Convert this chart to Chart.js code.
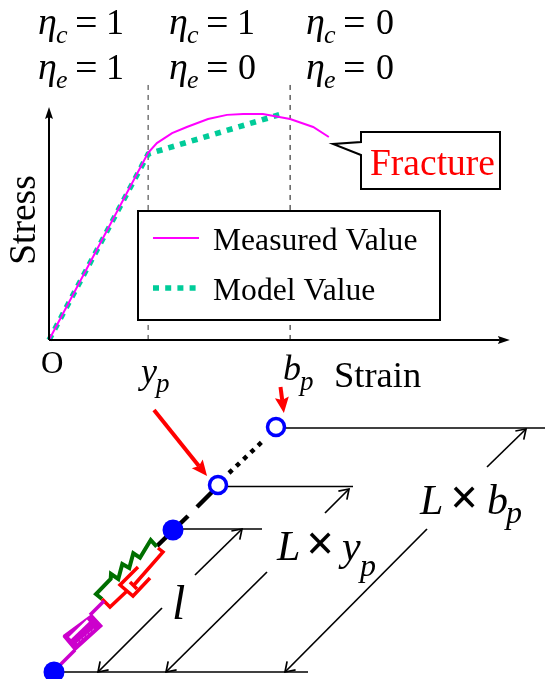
<!DOCTYPE html>
<html>
<head>
<meta charset="utf-8">
<title>Stress strain model</title>
<script src="https://cdn.jsdelivr.net/npm/chart.js@4"></script>
<style>
  html, body { margin: 0; padding: 0; background: #fff; }
  canvas { display: block; }
</style>
</head>
<body>
<canvas id="chart" width="545" height="679"></canvas>
<script>
// Stress-strain curves (strain and stress in % of the drawn axis length)
const seriesNames = ["Measured Value", "Model Value"];
const measuredStrain = [0, 21.5, 23.4, 26.7, 29.9, 34.5, 38.6, 42.1, 46.4, 52.3, 57.3, 60.7];
const measuredStress = [0, 80.3, 84.5, 88.8, 91.4, 94.8, 96.6, 97.0, 97.0, 94.8, 91.4, 87.1];
const modelStrain = [0, 21.5, 51.2];
const modelStress = [0, 79.8, 97.4];
const yieldStrain = 21.5;
const breakStrain = 52.3;
const guideTop = 111;

// Element model drawn below the plot (picture units)
const nodeX = [54, 173];
const nodeY = [672, 530];
const openNodeX = [218, 276];
const openNodeY = [485, 427];
const springX = [102, 96, 110.7, 111, 118.3, 122.3, 129.3, 133.3, 140, 150.7, 156.7];
const springY = [599, 594, 579, 574, 579, 564, 568, 553.3, 557.7, 540, 546.7];
const damperBaseX = [102, 110, 127];
const damperBaseY = [599, 607, 591];
const damperCylinderX = [138, 120, 133, 150];
const damperCylinderY = [567, 585, 596, 578];
const damperRodX = [158, 163, 134];
const damperRodY = [548, 552, 585];
const damperHeadX = [130, 137];
const damperHeadY = [582, 589];
const sliderX = [63.3, 91.7, 101.7, 75, 63.3];
const sliderY = [636, 615, 626, 650, 636];
const sliderSlitX = [70, 88];
const sliderSlitY = [638, 620.7];
const sliderGrainX = [77, 95];
const sliderGrainY = [643, 628];

const TEXT_BLACK = "#000000";
const RED = "#ff0000";
const BLUE = "#0000ff";
const MAGENTA = "#ff00ff";
const TEAL = "#00cc99";
const GREEN = "#006f00";
const PURPLE = "#cc00cc";
const SERIF = '"Liberation Serif"';

// Text: string, x, baseline, size, style, colour
const labels = [
    ["η", 38, 34, 38, "italic"], ["c", 56, 43, 26, "italic"], ["=", 75, 36, 40, ""], ["1", 106, 34, 36, ""],
    ["η", 38, 79, 38, "italic"], ["e", 56, 88, 26, "italic"], ["=", 75, 81, 40, ""], ["1", 106, 79, 36, ""],
    ["η", 169, 34, 38, "italic"], ["c", 187, 43, 26, "italic"], ["=", 206, 36, 40, ""], ["1", 237, 34, 36, ""],
    ["η", 169, 79, 38, "italic"], ["e", 187, 88, 26, "italic"], ["=", 206, 81, 40, ""], ["0", 238, 79, 36, ""],
    ["η", 306, 34, 38, "italic"], ["c", 324, 43, 26, "italic"], ["=", 343, 36, 40, ""], ["0", 376, 34, 36, ""],
    ["η", 306, 79, 38, "italic"], ["e", 324, 88, 26, "italic"], ["=", 343, 81, 40, ""], ["0", 376, 79, 36, ""],
    ["Fracture", 370, 175, 37.5, "", RED],
    [seriesNames[0], 213, 250, 31.6, ""],
    [seriesNames[1], 213, 300, 31.6, ""],
    ["O", 41, 373, 31, ""],
    ["y", 141, 383, 36, "italic"], ["p", 156, 392, 27, "italic"],
    ["b", 283, 380, 36, "italic"], ["p", 300, 390, 27, "italic"],
    ["Strain", 334, 387, 36.5, ""],
    ["l", 172, 619, 48, "italic"],
    ["L", 277, 560, 42, "italic"], ["×", 306, 560, 50, "bold"], ["y", 342, 560, 42, "italic"], ["p", 360, 576, 32, "italic"],
    ["L", 420, 514, 42, "italic"], ["×", 450, 514, 50, "bold"], ["b", 487, 514, 42, "italic"], ["p", 506, 523, 32, "italic"]
];

function toPoints(xs, ys) {
    return xs.map((x, i) => ({ x: x, y: ys[i] }));
}

// Datasets on the strain/stress scales
function plotLine(xs, ys, color, width, extra) {
    return Object.assign({
        data: toPoints(xs, ys), xAxisID: "strain", yAxisID: "stress", showLine: true,
        borderColor: color, borderWidth: width, pointRadius: 0, tension: 0, fill: false
    }, extra);
}

// Datasets on the picture scales
function figLine(xs, ys, color, width, extra) {
    return plotLine(xs, ys, color, width, Object.assign({ xAxisID: "figX", yAxisID: "figY" }, extra));
}

const boxStyle = { fill: "shape", backgroundColor: "#ffffff", borderCapStyle: "square", borderJoinStyle: "miter" };
const solidHead = { arrow: { len: 10, half: 4, color: TEXT_BLACK } };
const redHead = { arrow: { len: 13, half: 7, color: RED } };
const openHead = { arrow: { len: 9, half: 6, open: true, color: TEXT_BLACK } };

// Listed in paint order, later entries on top
const layers = [
    plotLine([yieldStrain, yieldStrain], [0, guideTop], "#333333", 1, { borderDash: [5, 5] }),
    plotLine([breakStrain, breakStrain], [0, guideTop], "#111111", 1, { borderDash: [5, 5] }),
    plotLine(modelStrain, modelStress, TEAL, 5.5, { label: seriesNames[1], borderDash: [6, 6.2] }),
    plotLine(measuredStrain, measuredStress, MAGENTA, 2, { label: seriesNames[0] }),
    plotLine([0, 0], [0, 95.7], TEXT_BLACK, 2, solidHead),
    plotLine([0, 97.8], [0, 0], TEXT_BLACK, 2, solidHead),

    // legend box and callout
    figLine([138, 440, 440, 138, 138], [211, 211, 320, 320, 211], TEXT_BLACK, 2, boxStyle),
    figLine([153, 199], [238, 238], MAGENTA, 2),
    figLine([153, 197], [288, 288], TEAL, 5.5, { borderDash: [6, 6.2] }),
    figLine([361, 500, 500, 361, 361, 333, 361, 361], [132, 132, 189, 189, 155, 144, 142, 132], TEXT_BLACK, 2, boxStyle),

    // dimension lines
    figLine([282, 545], [428, 428], TEXT_BLACK, 1.7),
    figLine([226, 353], [486.5, 486.5], TEXT_BLACK, 1.7),
    figLine([178, 262], [529, 529], TEXT_BLACK, 1.7),
    figLine([54, 308], [672, 672], TEXT_BLACK, 1.7),
    figLine([195, 242], [575, 529], TEXT_BLACK, 1.7, openHead),
    figLine([162, 98], [608, 672], TEXT_BLACK, 1.7, openHead),
    figLine([325, 349], [513, 489], TEXT_BLACK, 1.7, openHead),
    figLine([267, 166], [572, 672], TEXT_BLACK, 1.7, openHead),
    figLine([487, 526], [467, 429], TEXT_BLACK, 1.7, openHead),
    figLine([427, 285], [529, 672], TEXT_BLACK, 1.7, openHead),

    // truss element
    figLine([157, 188], [546, 516], TEXT_BLACK, 4.5),
    figLine([197, 212], [507, 492], TEXT_BLACK, 4.5),
    figLine([229, 265], [473, 439], TEXT_BLACK, 4.5, { borderDash: [4.5, 5.5] }),
    figLine(springX, springY, GREEN, 4),
    figLine(damperBaseX, damperBaseY, RED, 3.5),
    figLine(damperCylinderX, damperCylinderY, RED, 3.5),
    figLine(damperRodX, damperRodY, RED, 3.5),
    figLine(damperHeadX, damperHeadY, RED, 3.5),
    figLine([104, 90], [601, 615], PURPLE, 3.5),
    figLine([75, 54], [650, 671], PURPLE, 3.5),
    figLine(sliderX, sliderY, PURPLE, 2, { fill: "shape", backgroundColor: PURPLE }),
    figLine(sliderSlitX, sliderSlitY, "#ffffff", 3),
    figLine(sliderGrainX, sliderGrainY, "rgba(255,255,255,0.5)", 1, { borderDash: [2, 2] }),

    // nodes
    figLine(nodeX, nodeY, BLUE, 0, { showLine: false, pointRadius: 10.5, pointBackgroundColor: BLUE, pointBorderWidth: 0 }),
    figLine(openNodeX, openNodeY, BLUE, 0, { showLine: false, pointRadius: 8.5, pointBackgroundColor: "#ffffff", pointBorderColor: BLUE, pointBorderWidth: 3.5 }),

    // red markers
    figLine([154, 198.9], [410, 465.9], RED, 4, redHead),
    figLine([280.5, 282.2], [387, 400], RED, 4, redHead)
];
layers.forEach((layer, i) => { layer.order = -i; });

/**
 * Draws arrow heads at the last point of the datasets that ask for one
 */
const arrowHeads = {
    id: "arrowHeads",
    afterDatasetsDraw(chart) {
        const ctx = chart.ctx;
        chart.data.datasets.forEach((ds, i) => {
            if (!ds.arrow) return;
            const pts = chart.getDatasetMeta(i).data;
            const a = pts[pts.length - 2];
            const b = pts[pts.length - 1];
            const d = Math.hypot(b.x - a.x, b.y - a.y);
            const ux = (b.x - a.x) / d;
            const uy = (b.y - a.y) / d;
            const { len, half, open, color } = ds.arrow;
            ctx.save();
            if (open) {
                ctx.strokeStyle = color;
                ctx.lineWidth = 1.7;
                ctx.beginPath();
                ctx.moveTo(b.x - ux * len - uy * half, b.y - uy * len + ux * half);
                ctx.lineTo(b.x, b.y);
                ctx.lineTo(b.x - ux * len + uy * half, b.y - uy * len - ux * half);
                ctx.stroke();
            } else {
                const backX = b.x - ux * len * 0.2;
                const backY = b.y - uy * len * 0.2;
                ctx.fillStyle = color;
                ctx.beginPath();
                ctx.moveTo(b.x + ux * len, b.y + uy * len);
                ctx.lineTo(backX - uy * half, backY + ux * half);
                ctx.lineTo(b.x, b.y);
                ctx.lineTo(backX + uy * half, backY - ux * half);
                ctx.closePath();
                ctx.fill();
            }
            ctx.restore();
        });
    }
};

/**
 * Draws every label on top of the marks, placed through the picture scales
 */
const figureText = {
    id: "figureText",
    afterDraw(chart) {
        const ctx = chart.ctx;
        const sx = chart.scales.figX;
        const sy = chart.scales.figY;
        ctx.save();
        ctx.textBaseline = "alphabetic";
        ctx.textAlign = "left";
        labels.forEach(([text, x, y, size, style, color]) => {
            ctx.font = `${style} ${size}px ${SERIF}`;
            ctx.fillStyle = color || TEXT_BLACK;
            ctx.fillText(text, sx.getPixelForValue(x), sy.getPixelForValue(y));
        });
        // rotated axis title
        ctx.translate(sx.getPixelForValue(35), sy.getPixelForValue(220));
        ctx.rotate(-Math.PI / 2);
        ctx.textAlign = "center";
        ctx.font = `37.5px ${SERIF}`;
        ctx.fillStyle = TEXT_BLACK;
        ctx.fillText("Stress", 0, 0);
        ctx.restore();
    }
};

new Chart(document.getElementById("chart").getContext("2d"), {
    type: "scatter",
    data: { datasets: layers },
    plugins: [arrowHeads, figureText],
    options: {
        responsive: false,
        animation: false,
        events: [],
        layout: { padding: 0, autoPadding: false },
        plugins: { legend: { display: false }, tooltip: { enabled: false }, title: { display: false } },
        scales: {
            // strain 0 sits at x = 49, 100 at x = 510; stress 0 at y = 340, 100 at y = 107
            strain: { type: "linear", axis: "x", display: false, min: -10.63, max: 107.59 },
            stress: { type: "linear", axis: "y", display: false, min: -145.5, max: 145.9 },
            figX: { type: "linear", axis: "x", display: false, min: 0, max: 545 },
            figY: { type: "linear", axis: "y", display: false, min: 0, max: 679, reverse: true }
        }
    }
});
</script>
</body>
</html>
